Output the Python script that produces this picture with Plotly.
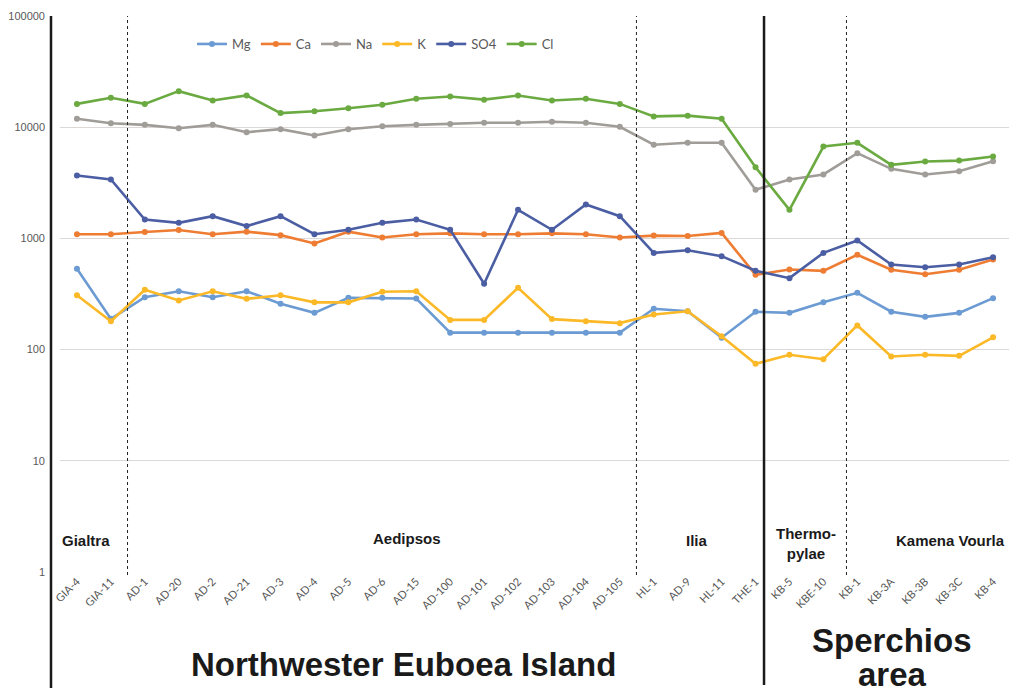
import plotly.graph_objects as go

samples = ["GIA-4", "GIA-11", "AD-1", "AD-20", "AD-2", "AD-21", "AD-3", "AD-4", "AD-5", "AD-6",
           "AD-15", "AD-100", "AD-101", "AD-102", "AD-103", "AD-104", "AD-105", "HL-1", "AD-9",
           "HL-11", "THE-1", "KB-5", "KBE-10", "KB-1", "KB-3A", "KB-3B", "KB-3C", "KB-4"]

mg = [533, 189, 296, 335, 296, 335, 258, 214, 292, 292, 288, 142, 142, 142, 142, 142, 142,
      233, 221, 128, 219, 214, 267, 324, 219, 197, 214, 290]
ca = [1090, 1090, 1140, 1190, 1090, 1150, 1070, 900, 1150, 1020, 1090, 1110, 1090, 1090, 1110,
      1090, 1020, 1060, 1050, 1120, 471, 525, 511, 713, 523, 476, 523, 646]
na = [11900, 10860, 10500, 9800, 10500, 9020, 9600, 8420, 9600, 10200, 10500, 10700, 10950,
      10950, 11190, 10950, 10080, 6950, 7240, 7240, 2735, 3390, 3760, 5840, 4225, 3760, 4020, 4940]
k = [308, 180, 345, 277, 335, 286, 308, 266, 266, 331, 335, 185, 185, 360, 188, 180, 173, 207,
     221, 132, 74.5, 89.8, 82, 165, 86.7, 89.8, 87.9, 129]
so4 = [3680, 3390, 1480, 1380, 1585, 1290, 1585, 1090, 1195, 1380, 1480, 1195, 391, 1807, 1195,
       2018, 1585, 741, 783, 692, 512, 439, 741, 957, 582, 551, 582, 678]
cl = [16200, 18400, 16200, 21100, 17400, 19300, 13400, 13900, 14800, 15900, 18000, 18900, 17700,
      19300, 17400, 18000, 16200, 12500, 12700, 11900, 4365, 1807, 6700, 7240, 4590, 4920, 5010, 5450]

series_names = ["Mg", "Ca", "Na", "K", "SO4", "Cl"]
series_values = [mg, ca, na, k, so4, cl]
series_colors = ["#6B9BD2", "#EE7D33", "#A09C98", "#FBB928", "#4B5EA3", "#6AAA40"]

y_ticks = [1, 10, 100, 1000, 10000, 100000]

# page has an 8px body margin, so the figure is offset by 8px
O = 8
W, H = 1017 - O, 695 - O
# plot area in page pixels: x 60..1010, y 16..572
PX0, PX1, PY0, PY1 = 60, 1010, 16, 572
L, R, T, B = PX0 - O, (W + O) - PX1, PY0 - O, (H + O) - PY1
PW, PH = PX1 - PX0, PY1 - PY0


def px(xp):
    return (xp - PX0) / PW


def py(yp):
    return 1 - (yp - PY0) / PH


fig = go.Figure()
for name, vals, col in zip(series_names, series_values, series_colors):
    fig.add_trace(go.Scatter(
        x=samples, y=vals, name=name, mode="lines+markers",
        line=dict(color=col, width=2.6),
        marker=dict(color=col, size=6),
    ))

shapes = []
# thick left axis line
shapes.append(dict(type="line", xref="paper", yref="paper", x0=px(51), x1=px(51),
                   y0=1, y1=py(688), line=dict(color="#1a1a1a", width=2.5)))
# dotted separators
for xv in [1.49, 16.49, 22.68]:
    shapes.append(dict(type="line", xref="x", yref="paper", x0=xv, x1=xv, y0=py(575), y1=1,
                       line=dict(color="#222222", width=1, dash="dot")))
# solid separator
shapes.append(dict(type="line", xref="x", yref="paper", x0=20.25, x1=20.25, y0=py(685), y1=1,
                   line=dict(color="#1a1a1a", width=2.5)))

annots = []
region_font = dict(family="Liberation Sans, Arial", size=15, color="#1a1a1a")
for text, xp, yp in [("<b>Gialtra</b>", 86, 540), ("<b>Aedipsos</b>", 407, 538),
                     ("<b>Ilia</b>", 697, 540), ("<b>Thermo-<br>pylae</b>", 806, 543),
                     ("<b>Kamena Vourla</b>", 950, 540)]:
    annots.append(dict(text=text, x=px(xp), y=py(yp), xref="paper", yref="paper",
                       showarrow=False, font=region_font, xanchor="center", yanchor="middle"))
big_font = dict(family="Liberation Sans, Arial", size=33, color="#1a1a1a")
for text, xp, yp in [("<b>Northwester Euboea Island</b>", 403, 664),
                     ("<b>Sperchios</b>", 892, 640), ("<b>area</b>", 892, 674)]:
    annots.append(dict(text=text, x=px(xp), y=py(yp), xref="paper", yref="paper",
                       showarrow=False, font=big_font, xanchor="center", yanchor="middle"))

fig.update_layout(
    width=W, height=H,
    margin=dict(l=L, r=R, t=T, b=B, autoexpand=False),
    paper_bgcolor="white", plot_bgcolor="white",
    font=dict(family="Lato, Carlito, Liberation Sans", color="#595959"),
    showlegend=True,
    legend=dict(orientation="h", x=px(192), y=py(44), xanchor="left", yanchor="middle",
                font=dict(size=13, color="#595959", family="Lato, Liberation Sans"),
                bgcolor="rgba(0,0,0,0)", itemwidth=30),
    shapes=shapes,
    annotations=annots,
    xaxis=dict(type="category", categoryorder="array", categoryarray=samples,
               range=[-0.5, len(samples) - 0.5], tickangle=-45, showgrid=False,
               showline=False, zeroline=False, ticks="", automargin=False,
               tickfont=dict(size=11, color="#555555", family="Lato, Liberation Sans")),
    yaxis=dict(type="log", range=[0, 5], tickvals=y_ticks, ticktext=[str(v) for v in y_ticks],
               showgrid=True, gridcolor="#DDD8D8", gridwidth=1, showline=False, zeroline=False,
               ticks="", ticklabelstandoff=14, automargin=False,
               tickfont=dict(size=11, color="#595959", family="Liberation Sans, Arial")),
)

fig.write_html("out.html")
